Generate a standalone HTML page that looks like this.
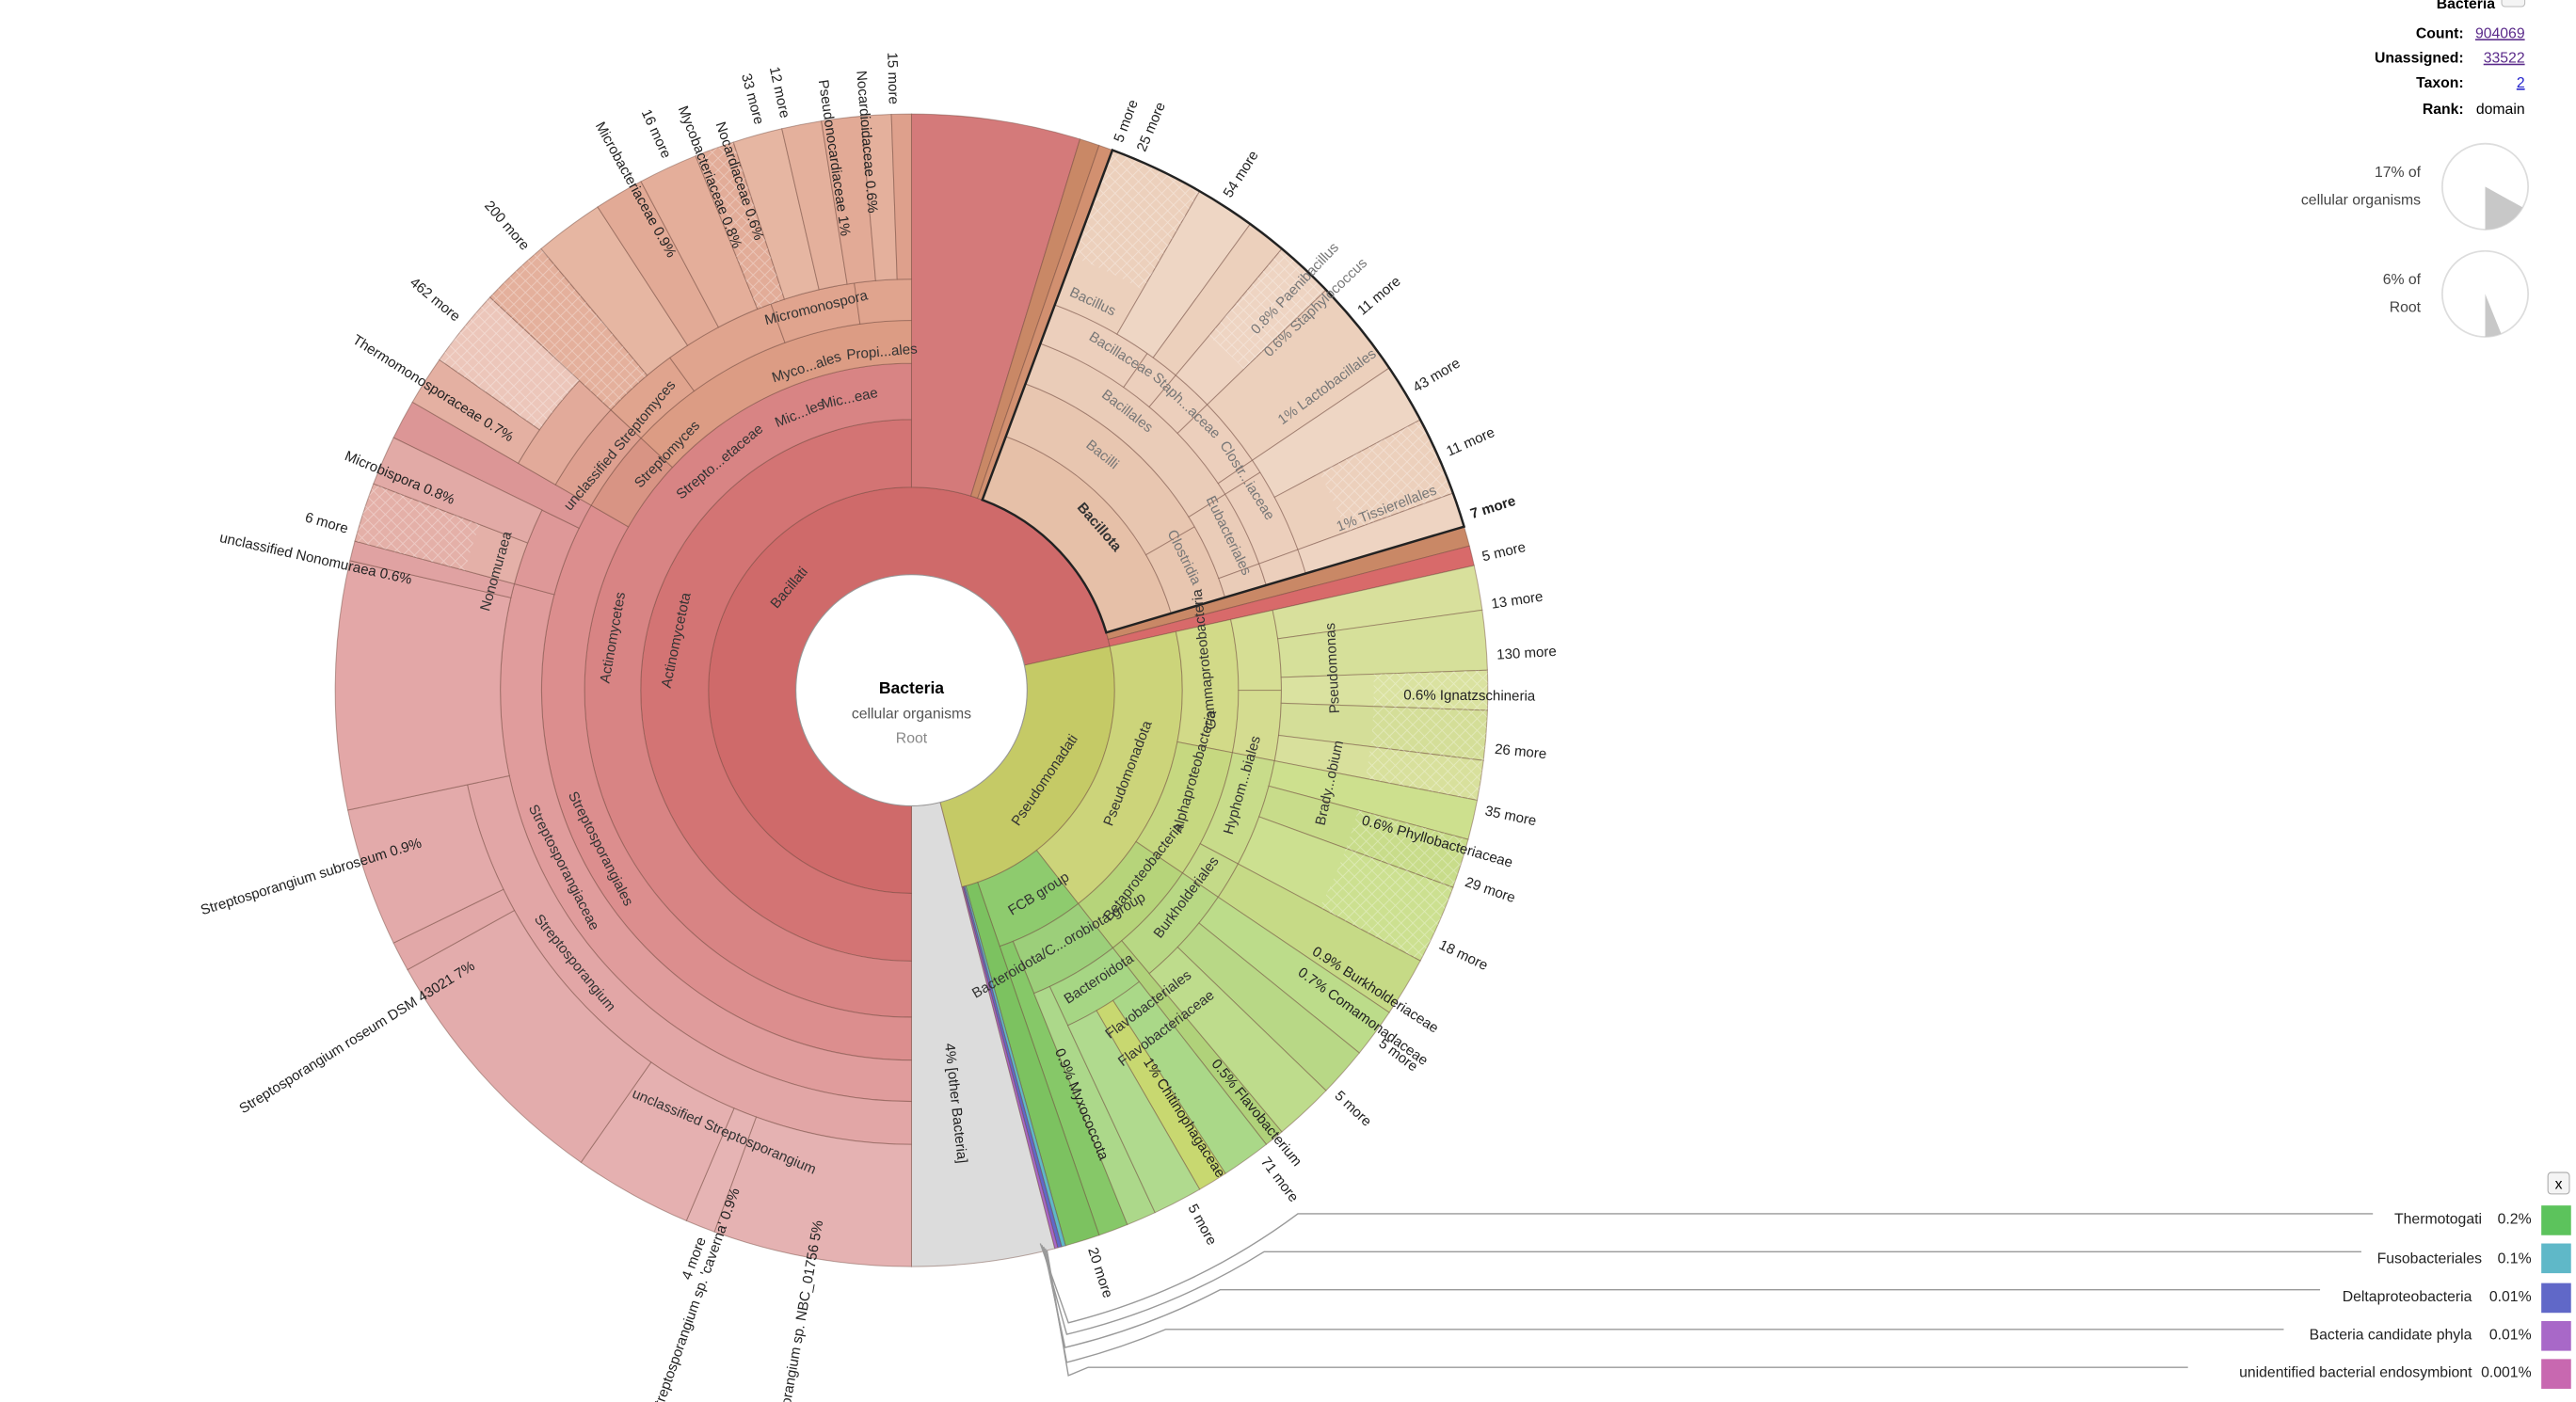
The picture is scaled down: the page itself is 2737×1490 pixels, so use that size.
<!DOCTYPE html>
<html><head><meta charset="utf-8"><style>
html,body{margin:0;padding:0;background:#fff;overflow:hidden;}
svg{display:block;font-family:"Liberation Sans","DejaVu Sans",sans-serif;}
.o{font-size:8.6px;fill:#222;}
.i{font-size:8.6px;fill:#333;}
.b{fill:#777;}
.g{font-size:9px;fill:#555;}
</style></head><body>
<svg id="s" width="2737" height="1490" viewBox="0 0 1560 849" preserveAspectRatio="none" xmlns="http://www.w3.org/2000/svg">
<defs>
<pattern id="h" width="5" height="5" patternUnits="userSpaceOnUse" patternTransform="rotate(45)">
<path d="M0 0H5M0 0V5" stroke="rgba(255,255,255,0.35)" stroke-width="1"/>
</pattern>
</defs>
<rect width="1560" height="849" fill="#fff"/>
<g id="w"></g>
<circle cx="552" cy="418" r="70" fill="#fff" stroke="#999" stroke-width="0.6"/>
<text x="552" y="420" text-anchor="middle" style="font-size:10px;font-weight:bold">Bacteria</text>
<text x="552" y="435" text-anchor="middle" class="g">cellular organisms</text>
<text x="552" y="450" text-anchor="middle" class="g" style="fill:#888">Root</text>

<g class="o">
<text x="197" y="421" text-anchor="end" transform="rotate(88.3 552 418)">15 more</text>
<text x="262" y="421" text-anchor="end" transform="rotate(85.4 552 418)">Nocardioidaceae  0.6%</text>
<text x="274" y="421" text-anchor="end" transform="rotate(81.8 552 418)">Pseudonocardiaceae  1%</text>
<text x="197" y="421" text-anchor="end" transform="rotate(77.6 552 418)">12 more</text>
<text x="197" y="421" text-anchor="end" transform="rotate(75 552 418)">33 more</text>
<text x="264" y="421" text-anchor="end" transform="rotate(71.4 552 418)">Nocardiaceae  0.6%</text>
<text x="264" y="421" text-anchor="end" transform="rotate(68.6 552 418)">Mycobacteriaceae  0.8%</text>
<text x="197" y="421" text-anchor="end" transform="rotate(65.4 552 418)">16 more</text>
<text x="252" y="421" text-anchor="end" transform="rotate(61.2 552 418)">Microbacteriaceae  0.9%</text>
<text x="197" y="421" text-anchor="end" transform="rotate(49 552 418)">200 more</text>
<text x="197" y="421" text-anchor="end" transform="rotate(39.4 552 418)">462 more</text>
<text x="266" y="421" text-anchor="end" transform="rotate(32.3 552 418)">Thermomonosporaceae  0.7%</text>
<text x="252" y="421" text-anchor="end" transform="rotate(22.6 552 418)">Microbispora  0.8%</text>
<text x="197" y="421" text-anchor="end" transform="rotate(16 552 418)">6 more</text>
<text x="242" y="421" text-anchor="end" transform="rotate(12.5 552 418)">unclassified Nonomuraea  0.6%</text>
<text x="241" y="421" text-anchor="end" transform="rotate(-17.2 552 418)">Streptosporangium subroseum  0.9%</text>
<text x="239" y="421" text-anchor="end" transform="rotate(-32 552 418)">Streptosporangium roseum DSM 43021  7%</text>
<text x="197" y="421" text-anchor="end" transform="rotate(-69 552 418)">4 more</text>
<text x="232" y="421" text-anchor="end" transform="rotate(-70.5 552 418)">Streptosporangium sp. 'caverna'  0.9%</text>
<text x="226" y="421" text-anchor="end" transform="rotate(-80 552 418)">Streptosporangium sp. NBC_01756  5%</text>

<text x="907" y="421" transform="rotate(-69.4 552 418)">5 more</text>
<text x="907" y="421" transform="rotate(-67 552 418)">25 more</text>
<text x="907" y="421" transform="rotate(-57.5 552 418)">54 more</text>
<text x="907" y="421" transform="rotate(-40.2 552 418)">11 more</text>
<text x="907" y="421" transform="rotate(-31 552 418)">43 more</text>
<text x="907" y="421" transform="rotate(-24 552 418)">11 more</text>
<text x="907" y="421" transform="rotate(-17.5 552 418)" style="font-weight:bold">7 more</text>
<text x="907" y="421" transform="rotate(-13.2 552 418)">5 more</text>
<text x="907" y="421" transform="rotate(-8.5 552 418)">13 more</text>
<text x="907" y="421" transform="rotate(-3.5 552 418)">130 more</text>
<text x="850" y="421" transform="rotate(0.5 552 418)">0.6%   Ignatzschineria</text>
<text x="907" y="421" transform="rotate(5.7 552 418)">26 more</text>
<text x="907" y="421" transform="rotate(11.8 552 418)">35 more</text>
<text x="836" y="421" transform="rotate(16 552 418)">0.6%  Phyllobacteriaceae</text>
<text x="907" y="421" transform="rotate(19 552 418)">29 more</text>
<text x="907" y="421" transform="rotate(25.6 552 418)">18 more</text>
<text x="842" y="421" transform="rotate(32.8 552 418)">0.9%   Burkholderiaceae</text>
<text x="842" y="421" transform="rotate(35.8 552 418)">0.7%   Comamonadaceae</text>
<text x="907" y="421" transform="rotate(36.8 552 418)">5 more</text>
<text x="907" y="421" transform="rotate(43.4 552 418)">5 more</text>
<text x="842" y="421" transform="rotate(50.7 552 418)">0.5%   Flavobacterium</text>
<text x="907" y="421" transform="rotate(53 552 418)">71 more</text>
<text x="817" y="421" transform="rotate(57.4 552 418)">1%   Chitinophagaceae</text>
<text x="907" y="421" transform="rotate(61.4 552 418)">5 more</text>
<text x="907" y="421" transform="rotate(72 552 418)">20 more</text>
<text x="787" y="421" transform="rotate(67.6 552 418)">0.9%   Myxococcota</text>
<text x="767" y="421" transform="rotate(83.8 552 418)">4%   [other Bacteria]</text>
</g>
<g class="o b">
<text x="852" y="421" transform="rotate(-46.4 552 418)">0.8%  Paenibacillus</text>
<text x="848" y="421" transform="rotate(-43.5 552 418)">0.6%  Staphylococcus</text>
<text x="828" y="421" transform="rotate(-36.2 552 418)">1%  Lactobacillales</text>
<text x="828" y="421" transform="rotate(-21 552 418)">1%  Tissierellales</text>
</g>

<g class="i">
<text x="552" y="324" text-anchor="middle" transform="rotate(-50 552 418)">Bacillati</text>
<text x="552" y="275" text-anchor="middle" transform="rotate(-78 552 418)">Actinomycetota</text>
<text x="552" y="237" text-anchor="middle" transform="rotate(-80 552 418)">Actinomycetes</text>
<text x="552" y="632" text-anchor="middle" transform="rotate(63 552 418)">Streptosporangiales</text>
<text x="552" y="657" text-anchor="middle" transform="rotate(63 552 418)">Streptosporangiaceae</text>
<text x="552" y="683" text-anchor="middle" transform="rotate(51 552 418)">Streptosporangium</text>
<text x="552" y="711" text-anchor="middle" transform="rotate(23 552 418)">unclassified Streptosporangium</text>
<text x="552" y="159" text-anchor="middle" transform="rotate(-74 552 418)">Nonomuraea</text>
<text x="552" y="182" text-anchor="middle" transform="rotate(-14 552 418)">Micromonospora</text>
<text x="552" y="215" text-anchor="middle" transform="rotate(-18 552 418)">Myco...ales</text>
<text x="552" y="215" text-anchor="middle" transform="rotate(-5 552 418)">Propi...ales</text>
<text x="552" y="240" text-anchor="middle" transform="rotate(-22 552 418)">Mic...les</text>
<text x="552" y="240" text-anchor="middle" transform="rotate(-12 552 418)">Mic...eae</text>
<text x="552" y="240" text-anchor="middle" transform="rotate(-40 552 418)">Strepto...etaceae</text>
<text x="552" y="215" text-anchor="middle" transform="rotate(-46 552 418)">Streptomyces</text>
<text x="552" y="190" text-anchor="middle" transform="rotate(-50 552 418)">unclassified Streptomyces</text>
<text x="552" y="270" text-anchor="middle" transform="rotate(49 552 418)" style="font-weight:bold">Bacillota</text>
</g>
<g class="i b">
<text x="552" y="237" text-anchor="middle" transform="rotate(39 552 418)">Bacilli</text>
<text x="552" y="207" text-anchor="middle" transform="rotate(37.7 552 418)">Bacillales</text>
<text x="552" y="181" text-anchor="middle" transform="rotate(32 552 418)">Bacillaceae</text>
<text x="552" y="161" text-anchor="middle" transform="rotate(25 552 418)">Bacillus</text>
<text x="552" y="237" text-anchor="middle" transform="rotate(64 552 418)">Clostridia</text>
<text x="552" y="207" text-anchor="middle" transform="rotate(64 552 418)">Eubacteriales</text>
<text x="552" y="181" text-anchor="middle" transform="rotate(44 552 418)">Staph...aceae</text>
<text x="552" y="181" text-anchor="middle" transform="rotate(58 552 418)">Clostr...iaceae</text>
</g>
<g class="i">
<text x="552" y="518" text-anchor="middle" transform="rotate(-56 552 418)">Pseudomonadati</text>
<text x="552" y="561" text-anchor="middle" transform="rotate(-69 552 418)">Pseudomonadota</text>
<text x="552" y="599" text-anchor="middle" transform="rotate(-96 552 418)">Gammaproteobacteria</text>
<text x="552" y="599" text-anchor="middle" transform="rotate(-74 552 418)">Alphaproteobacteria</text>
<text x="552" y="599" text-anchor="middle" transform="rotate(-52 552 418)">Betaproteobacteria</text>
<text x="552" y="629" text-anchor="middle" transform="rotate(-74 552 418)">Hyphom...biales</text>
<text x="552" y="629" text-anchor="middle" transform="rotate(-53 552 418)">Burkholderiales</text>
<text x="552" y="676" text-anchor="middle" transform="rotate(-93 552 418)">Pseudomonas</text>
<text x="552" y="680" text-anchor="middle" transform="rotate(-77.5 552 418)">Brady...obium</text>
<text x="552" y="566" text-anchor="middle" transform="rotate(-32 552 418)">FCB group</text>
<text x="552" y="599" text-anchor="middle" transform="rotate(-30 552 418)">Bacteroidota/C...orobiota group</text>
<text x="552" y="629" text-anchor="middle" transform="rotate(-33 552 418)">Bacteroidota</text>
<text x="552" y="659" text-anchor="middle" transform="rotate(-37 552 418)">Flavobacteriales</text>
<text x="552" y="677" text-anchor="middle" transform="rotate(-37 552 418)">Flavobacteriaceae</text>
</g>

<!-- legend lines -->
<g fill="none" stroke="#999" stroke-width="0.8">
<path d="M630 753 L647 801 A394 394 0 0 0 786 735 H1437"/>
<path d="M631 754 L646 808 A401 401 0 0 0 765.5 758 H1430"/>
<path d="M632 755 L645 816 A409 409 0 0 0 739 781 H1405"/>
<path d="M633 756 L646 825 A418 418 0 0 0 706 805 H1383"/>
<path d="M634 757 L647 833 L659 828 H1325"/>
</g>
<g style="font-size:9px;fill:#222" text-anchor="end">
<text x="1503" y="741">Thermotogati</text><text x="1533" y="741">0.2%</text>
<text x="1503" y="765">Fusobacteriales</text><text x="1533" y="765">0.1%</text>
<text x="1497" y="788">Deltaproteobacteria</text><text x="1533" y="788">0.01%</text>
<text x="1497" y="811">Bacteria candidate phyla</text><text x="1533" y="811">0.01%</text>
<text x="1497" y="834">unidentified bacterial endosymbiont</text><text x="1533" y="834">0.001%</text>
</g>
<rect x="1539" y="730" width="18" height="18" fill="#5cc35c"/>
<rect x="1539" y="753" width="18" height="18" fill="#5fb8c8"/>
<rect x="1539" y="777" width="18" height="18" fill="#6068c8"/>
<rect x="1539" y="800" width="18" height="18" fill="#a868c8"/>
<rect x="1539" y="823" width="18" height="18" fill="#c868b0"/>
<rect x="1543" y="710" width="13" height="13" rx="2" fill="#f4f4f4" stroke="#aaa" stroke-width="0.6"/>
<text x="1549.5" y="720" text-anchor="middle" style="font-size:9px">x</text>

<!-- info -->
<g style="font-size:9px">
<text x="1511" y="5" text-anchor="end" style="font-weight:bold">Bacteria</text>
<rect x="1515" y="-6" width="14" height="10" rx="2" fill="#f4f4f4" stroke="#bbb" stroke-width="0.6"/>
<text x="1492" y="23" text-anchor="end" style="font-weight:bold">Count:</text><text x="1529" y="23" text-anchor="end" fill="#5a2a8a" text-decoration="underline">904069</text>
<text x="1492" y="38" text-anchor="end" style="font-weight:bold">Unassigned:</text><text x="1529" y="38" text-anchor="end" fill="#5a2a8a" text-decoration="underline">33522</text>
<text x="1492" y="53" text-anchor="end" style="font-weight:bold">Taxon:</text><text x="1529" y="53" text-anchor="end" fill="#2222cc" text-decoration="underline">2</text>
<text x="1492" y="69" text-anchor="end" style="font-weight:bold">Rank:</text><text x="1529" y="69" text-anchor="end">domain</text>
<text x="1466" y="107" text-anchor="end" fill="#444">17% of</text>
<text x="1466" y="124" text-anchor="end" fill="#444">cellular organisms</text>
<text x="1466" y="172" text-anchor="end" fill="#444">6% of</text>
<text x="1466" y="189" text-anchor="end" fill="#444">Root</text>
</g>
<circle cx="1505" cy="113" r="26" fill="#fff" stroke="#ddd"/>
<path d="M1505 113 L1527.7 125.6 A26 26 0 0 1 1505 139Z" fill="#c8c8c8"/>
<circle cx="1505" cy="178" r="26" fill="#fff" stroke="#ddd"/>
<path d="M1505 178 L1514.7 202.1 A26 26 0 0 1 1505 204Z" fill="#c8c8c8"/>
</svg>
<script>
var cx=552,cy=418,R=349;
function P(a,r){a=a*Math.PI/180;return [cx+r*Math.sin(a),cy-r*Math.cos(a)];}
function W(a0,a1,r0,r1,f,st,sw){
 var p0=P(a0,r1),p1=P(a1,r1),p2=P(a1,r0),p3=P(a0,r0),l=(a1-a0)>180?1:0;
 var d="M"+p0+"A"+r1+","+r1+" 0 "+l+" 1 "+p1+"L"+p2+"A"+r0+","+r0+" 0 "+l+" 0 "+p3+"Z";
 var e=document.createElementNS("http://www.w3.org/2000/svg","path");
 e.setAttribute("d",d);e.setAttribute("fill",f);e.setAttribute("stroke",st||"rgba(110,70,60,0.45)");
 e.setAttribute("stroke-width",sw||0.6);document.getElementById("w").appendChild(e);}
var D=[
[165.6,180,70,349,"#dcdcdc"],
[180,437.5,70,123,"#cf6a6a"],[77.5,165.6,70,123,"#c5ca66"],
[180,360,123,164,"#d37474"],[0,17,123,349,"#d47a7a"],
[17,19,123,349,"#c98866"],[19,20.4,123,349,"#d29070"],
[73.5,75.5,123,349,"#c98866"],[75.5,77.5,123,349,"#d86a6a"],
[180,360,164,198,"#d88484"],
[180,300,198,224,"#dc8e8e"],[300,313,198,224,"#d89484"],[313,360,198,224,"#dc9c84"],
[180,285,224,249,"#e09c9c"],[285,296,224,249,"#de9898"],[296,300,224,349,"#dc9696"],
[300,313,224,249,"#dea090"],[313,324,224,249,"#e0a48e"],[324,340,224,249,"#e0a48e"],[340,352,224,249,"#e0a48e"],[352,360,224,249,"#e0a48e"],
[180,258,249,275,"#e2a6a6"],[180,200,275,349,"#e5b2b2"],[200,203,275,349,"#e6b4b4"],[203,215,275,349,"#e5b0b0"],
[215,241,275,349,"#e3acac"],[241,244,275,349,"#e2a8a8"],[244,258,275,349,"#e3aaaa"],
[258,283,249,349,"#e3a7a7"],[283,285,249,349,"#e0a2a2"],[285,291,249,349,"#e4b0a8"],[291,296,249,349,"#e2aaa6"],
[300,313,249,275,"#e2aa9a"],[300,305,275,349,"#e4b0a2"],[305,313,275,349,"#ecc6ba"],
[313,320,249,349,"#e4b09c"],[320,327,249,349,"#e6b6a2"],[327,332,249,349,"#e2aa96"],[332,338,249,349,"#e4ae9a"],
[338,342,249,349,"#e2ac98"],[342,347,249,349,"#e6b6a2"],[347,351,249,349,"#e4b09c"],[351,355,249,349,"#e2aa96"],[355,358,249,349,"#e4b09c"],[358,360,249,349,"#dea08c"],
[20.4,73.5,123,164,"#e6c0a8"],[20.4,60,164,198,"#e8c6b0"],[60,73.5,164,198,"#e8c6b0"],
[20.4,58,198,224,"#eaccb8"],[58,70,198,224,"#eaccb8"],[70,73.5,198,224,"#eaccb8"],
[20.4,35,224,249,"#eccfbc"],[35,40,224,249,"#eccfbc"],[40,46,224,249,"#eccfbc"],[46,56,224,249,"#eccfbc"],[56,58,224,249,"#eccfbc"],[58,70,224,249,"#eccfbc"],[70,73.5,224,249,"#eccfbc"],
[20.4,30,249,349,"#ecd0bc"],[30,36,249,349,"#eed6c4"],[36,40,249,349,"#ecd0bc"],[40,46,249,349,"#eed4c2"],[46,56,249,349,"#ecd0bc"],[56,62,249,349,"#eed6c4"],[62,70,249,349,"#ecd0bc"],[70,73.5,249,349,"#eed4c2"],
[77.5,142,123,164,"#ccd47a"],[77.5,101,164,198,"#d2da88"],[101,124,164,198,"#c6d880"],[124,142,164,198,"#b6d47a"],
[77.5,90,198,224,"#d6de94"],[90,101,198,224,"#d4dc90"],[101,118,198,224,"#c8dc8a"],[118,124,198,224,"#c4da88"],[124,140,198,224,"#b8d884"],[140,142,198,349,"#b0d27a"],
[77.5,82,224,349,"#d8e09c"],[82,88,224,349,"#d6e09a"],[88,92,224,349,"#dae2a0"],[92,97,224,349,"#d4de98"],[97,101,224,349,"#d8e09c"],
[101,105,224,349,"#cde08e"],[105,110,224,349,"#c8dc8a"],[110,118,224,349,"#cce090"],[118,124,224,349,"#c6da86"],
[124,129,224,349,"#bcdc8a"],[129,134,224,349,"#b8d886"],[134,140,224,349,"#bedc8c"],
[142,161,123,164,"#8ecb6e"],[142,158,164,198,"#9ccf7a"],[158,161,164,349,"#86c868"],
[142,155,198,224,"#a6d684"],[155,158,198,349,"#acd88a"],
[142,147,224,349,"#aad888"],[147,150,224,349,"#c8d870"],[150,155,224,349,"#b0da8e"],
[161,164.5,123,349,"#7cc260"],[164.5,164.9,123,349,"#5fb8c8"],[164.9,165.3,123,349,"#6068c8"],[165.3,165.6,123,349,"#a868c8"]
];
D.forEach(function(d){W(d[0],d[1],d[2],d[3],d[4]);});
[[305,313,275,349],[20.4,30,280,349],[40,46,280,349],[62,70,280,349],[285,291,280,349],[313,320,249,349],[338,342,249,349],[88,101,280,349],[105,118,280,349]].forEach(function(d){W(d[0],d[1],d[2],d[3],"url(#h)","none");});
W(20.4,73.5,123,349,"none","#222",1.4);
</script>
</body></html>
